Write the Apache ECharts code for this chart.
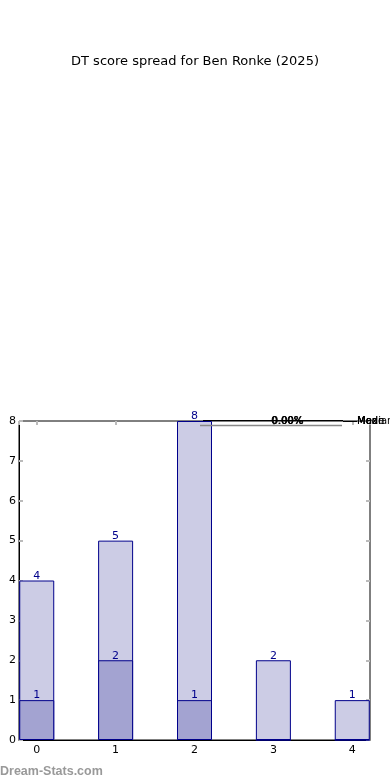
<!DOCTYPE html>
<html>
<head>
<meta charset="utf-8">
<script src="https://cdn.jsdelivr.net/npm/echarts@6/dist/echarts.min.js"></script>
<style>
html,body{margin:0;padding:0;background:#fff;}
#c{width:390px;height:780px;}
</style>
</head>
<body>
<div id="c"></div>
<script>
const categories = [0, 1, 2, 3, 4];
const totalCounts = [4, 5, 8, 2, 1];
const highlightCounts = [1, 2, 1, 0, 0];
const yTicks = [0, 1, 2, 3, 4, 5, 6, 7, 8];
const titleText = 'DT score spread for Ben Ronke (2025)';
const legendPct = '0.00%';
const legendWords = ['Median', 'Mean', 'Mode', 'Max'];

const chart = echarts.init(document.getElementById('c'));
const FONT = 'DejaVu Sans';
const lightData = categories.map((c, i) => [c, totalCounts[i]]);
const darkData = categories.map((c, i) => [c, highlightCounts[i]]);

const tickStyle = { show: true, inside: true, length: 4, lineStyle: { color: '#bbbbbb', width: 2 } };
const intLabel = v => (Math.abs(v - Math.round(v)) < 1e-6 ? String(Math.round(v)) : '');

const graphics = [
  { type: 'text', left: 'center', top: 55, style: { text: titleText, font: '13px "DejaVu Sans"', fill: '#000' } },
  { type: 'text', left: 0, top: 765, style: { text: 'Dream-Stats.com', font: 'bold 12.5px "Liberation Sans"', fill: '#999' } },
  { type: 'line', shape: { x1: 203, y1: 420.5, x2: 343, y2: 420.5 }, style: { stroke: '#000', lineWidth: 1 }, z: 20 },
  { type: 'line', shape: { x1: 200, y1: 425.5, x2: 342, y2: 425.5 }, style: { stroke: '#888', lineWidth: 1.5 }, z: 20 },
  { type: 'line', shape: { x1: 343, y1: 421.5, x2: 357, y2: 421.5 }, style: { stroke: '#000', lineWidth: 1 }, z: 20 }
];
for (let k = 0; k < 3; k++) {
  graphics.push({ type: 'text', x: 287 + k * 0.4, y: 421, z: 21,
    style: { text: legendPct, font: '10px "DejaVu Sans"', fill: '#000', align: 'center', verticalAlign: 'middle' } });
}
legendWords.forEach(w => {
  graphics.push({ type: 'text', x: 357, y: 421, z: 21,
    style: { text: w, font: '10px "DejaVu Sans"', fill: '#000', align: 'left', verticalAlign: 'middle' } });
});

chart.setOption({
  animation: false,
  textStyle: { fontFamily: FONT },
  grid: { left: 19, right: 20, top: 421, bottom: 40, show: true, borderColor: '#000', borderWidth: 1, backgroundColor: 'transparent' },
  xAxis: [{
    type: 'value', min: -0.225, max: 4.225,
    axisLine: { show: true, onZero: false, lineStyle: { color: '#000' } },
    axisTick: tickStyle,
    splitLine: { show: false },
    axisLabel: { formatter: intLabel, showMinLabel: false, showMaxLabel: false, color: '#000', fontSize: 11, margin: 5, fontFamily: FONT }
  }, {
    type: 'value', min: -0.225, max: 4.225, position: 'top',
    axisLine: { show: false, onZero: false }, axisTick: tickStyle, splitLine: { show: false },
    axisLabel: { show: false }
  }],
  yAxis: [{
    type: 'value', min: yTicks[0], max: yTicks[yTicks.length - 1], interval: 1,
    axisLine: { show: true, onZero: false, lineStyle: { color: '#000' } },
    axisTick: tickStyle,
    splitLine: { show: false },
    axisLabel: { color: '#000', fontSize: 11, margin: 3, fontFamily: FONT }
  }, {
    type: 'value', min: yTicks[0], max: yTicks[yTicks.length - 1], interval: 1, position: 'right',
    axisLine: { show: false, onZero: false }, axisTick: tickStyle, splitLine: { show: false },
    axisLabel: { show: false }
  }],
  series: [{
    type: 'bar', data: lightData, barWidth: 35, barGap: '-100%',
    itemStyle: { color: '#ccccE5', borderColor: '#00008B', borderWidth: 1 },
    label: { show: true, position: 'top', distance: -1, color: '#00008B', fontSize: 11, fontFamily: FONT },
    z: 2
  }, {
    type: 'bar', data: darkData, barWidth: 35, barGap: '-100%',
    itemStyle: { color: '#a3a3d1', borderColor: '#00008B', borderWidth: 1 },
    label: { show: true, position: 'top', distance: -1, color: '#00008B', fontSize: 11, fontFamily: FONT,
      formatter: p => (p.value[1] > 0 ? String(p.value[1]) : '') },
    z: 3
  }],
  graphic: graphics
});
</script>
</body>
</html>
